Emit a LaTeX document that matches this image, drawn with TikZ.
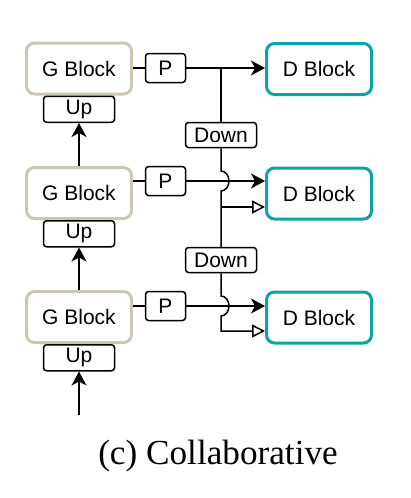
\documentclass[tikz,border=0pt]{standalone}
\usepackage{fontspec}
\setmainfont{Liberation Sans}
\newfontfamily\captionfont{Liberation Serif}
\usetikzlibrary{positioning}
\usetikzlibrary{arrows.meta, calc}
\definecolor{mygray}{RGB}{205, 198, 180}
\definecolor{myteal}{RGB}{10, 165, 160}

\begin{document}
\begin{tikzpicture}[
            x=0.5pt, y=-0.5pt,
            font=\fontsize{10.5}{12}\selectfont,
            block/.style={
                rectangle,
                rounded corners=4pt,
                draw=#1,
                line width=1.5pt,
                fill=white,
                minimum width=52.5pt,
                minimum height=25.5pt,
                inner sep=0pt
            },
            tag/.style={
                rectangle,
                rounded corners=1.5pt,
                draw=black,
                line width=0.75pt,
                fill=white,
                minimum width=35.5pt,
                minimum height=13pt,
                inner sep=0pt
            },
            line/.style={line width=0.75pt},
            fwd/.style={line, -{Stealth[length=7pt, width=7.5pt, inset=2pt]}},
            skip/.style={line, -{Triangle[open, length=6.5pt, width=6.5pt]}}
        ]
            \useasboundingbox (0,0) rectangle (411,498);

            % Generator side
            \node[block=mygray] (g1) at (79,68.5) {G Block};
            \node[block=mygray] (g2) at (79,193) {G Block};
            \node[block=mygray] (g3) at (79,317) {G Block};
            \node[tag, below=0pt of g1] (up1) {Up};
            \node[tag, below=0pt of g2] (up2) {Up};
            \node[tag, below=0pt of g3] (up3) {Up};

            % Projections
            \node[tag, minimum width=20pt, minimum height=14.5pt] (p1) at (165.5,68) {P};
            \node[tag, minimum width=20pt, minimum height=14.5pt] (p2) at (165.5,181) {P};
            \node[tag, minimum width=20pt, minimum height=14.5pt] (p3) at (165.5,306) {P};

            % Discriminator side
            \node[block=myteal] (d1) at (319,69) {D Block};
            \node[block=myteal] (d2) at (319,193.5) {D Block};
            \node[block=myteal] (d3) at (319,317.5) {D Block};
            \node[tag, minimum height=12.5pt] (down1) at (221,135) {Down};
            \node[tag, minimum height=12.5pt] (down2) at (221,260) {Down};

            \coordinate (in) at (79,415);

            % Arrows
            \draw[fwd] (in) -- (up3);
            \draw[fwd] (g3) -- (up2);
            \draw[fwd] (g2) -- (up1);

            \draw[line] (p1.west -| g1.east) -- (p1.west);
            \draw[line] (p2.west -| g2.east) -- (p2.west);
            \draw[line] (p3.west -| g3.east) -- (p3.west);
            \draw[fwd] (p1.east) -- (p1.east -| d1.west);
            \draw[fwd] (p2.east) -- (p2.east -| d2.west);
            \draw[fwd] (p3.east) -- (p3.east -| d3.west);

            \draw[line] (down1 |- p1) -- (down1.north);
            \draw[line] (down1.south) -- ($(down1 |- p2)+(0,-10)$)
                arc[start angle=90, end angle=-90, x radius=4pt, y radius=5pt]
                -- (down2.north);
            \draw[skip] ($(down1 |- d2)+(0,13.5)$) -- ($(d2.west)+(0,13.5)$);
            \draw[skip] (down2.south) -- ($(down2 |- p3)+(0,-10)$)
                arc[start angle=90, end angle=-90, x radius=4pt, y radius=5pt]
                -- ($(down2 |- d3)+(0,13.5)$) -- ($(d3.west)+(0,13.5)$);

            \node[font=\captionfont\fontsize{17.6}{20}\selectfont] (caption) at (218,456) {(c) Collaborative};
        \end{tikzpicture}
\end{document}
